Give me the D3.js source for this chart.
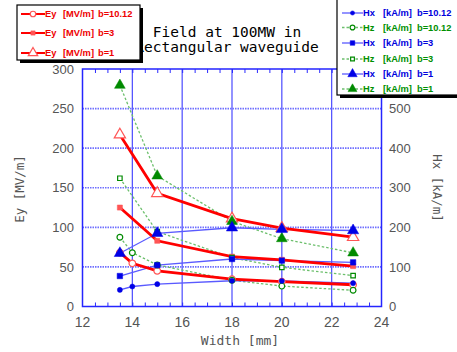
<!DOCTYPE html>
<html>
<head>
<meta charset="utf-8">
<script src="https://cdn.jsdelivr.net/npm/d3@7"></script>
<style>
  body { margin: 0; background: #fff; }
  .tick-label { font-family: "Liberation Sans", Arial, sans-serif; font-size: 13px; fill: #555; }
  .mono { font-family: "DejaVu Sans Mono", monospace; }
  .leg { font-family: "Liberation Sans", Arial, sans-serif; font-size: 9.3px; font-weight: bold; }
</style>
</head>
<body>
<div id="chart"></div>
<script>

// widths [mm]
var widthB10 = [13.5, 14, 15, 18, 20, 22.86]
var widthB = [13.5, 15, 18, 20, 22.86]

// Ey [MV/m], left axis
var eyB10 = [68, 54.5, 45, 34.5, 31.3, 27.5]
var eyB3 = [125, 83, 63, 59, 51]
var eyB1 = [217, 143, 111, 99, 87.5]

// Hx / Hz [kA/m], right axis
var hxB10 = [42, 50.5, 56.5, 65, 64.5, 59]
var hzB10 = [175, 136, 105, 66.5, 51.5, 41]
var hxB3 = [77, 104.5, 120, 116, 111.5]
var hzB3 = [324, 189, 123.5, 99, 78]
var hxB1 = [134.5, 185, 199, 195, 192]
var hzB1 = [559, 330, 215, 171.5, 135.5]

var xTicks = [12, 14, 16, 18, 20, 22, 24]
var yLeftTicks = [0, 50, 100, 150, 200, 250, 300]
var yRightTicks = [0, 100, 200, 300, 400, 500]

var W = 457, H = 352
var plot = { left: 82.5, right: 381.5, top: 69, bottom: 306.5 }

var svg = d3.select("#chart").append("svg")
    .attr("width", W)
    .attr("height", H)

var x = d3.scaleLinear().domain([12, 24]).range([plot.left, plot.right])
var yL = d3.scaleLinear().domain([0, 300]).range([plot.bottom, plot.top])
var yR = d3.scaleLinear().domain([0, 600]).range([plot.bottom, plot.top])

/* grid */
svg.selectAll(".vgrid")
  .data(xTicks.slice(1, -1))
  .enter().append("line")
    .attr("x1", function(d) { return x(d); })
    .attr("x2", function(d) { return x(d); })
    .attr("y1", plot.top)
    .attr("y2", plot.bottom)
    .style("stroke", "#4a4aff")
    .style("stroke-width", 1.2)

svg.selectAll(".hgrid")
  .data(yLeftTicks.slice(1, -1))
  .enter().append("line")
    .attr("x1", plot.left)
    .attr("x2", plot.right)
    .attr("y1", function(d) { return yL(d); })
    .attr("y2", function(d) { return yL(d); })
    .style("stroke", "#6f6fff")
    .style("stroke-width", 1.6)
    .style("stroke-dasharray", "1.5,1")

/* minor ticks every 0.5 mm, inside, bottom and top */
var minor = d3.range(12.5, 24, 0.5)
svg.append("g")
  .attr("transform", "translate(0," + plot.bottom + ")")
  .call(d3.axisBottom(x).tickValues(minor).tickSize(-4).tickFormat(""))
  .call(function(g) { g.select(".domain").remove(); g.selectAll("line").style("stroke", "#2b2bff"); })
svg.append("g")
  .attr("transform", "translate(0," + plot.top + ")")
  .call(d3.axisTop(x).tickValues(minor).tickSize(-4).tickFormat(""))
  .call(function(g) { g.select(".domain").remove(); g.selectAll("line").style("stroke", "#2b2bff"); })

/* frame */
svg.append("rect")
  .attr("x", plot.left)
  .attr("y", plot.top)
  .attr("width", plot.right - plot.left)
  .attr("height", plot.bottom - plot.top)
  .style("fill", "none")
  .style("stroke", "#2525ff")
  .style("stroke-width", 1.5)

/* tick labels */
svg.selectAll(".xl")
  .data(xTicks)
  .enter().append("text")
    .attr("class", "tick-label")
    .attr("x", function(d) { return x(d); })
    .attr("y", 327)
    .style("text-anchor", "middle")
    .style("font-size", "14px")
    .text(function(d) { return d; })

svg.selectAll(".yl")
  .data(yLeftTicks)
  .enter().append("text")
    .attr("class", "tick-label")
    .attr("x", 74)
    .attr("y", function(d) { return yL(d); })
    .attr("dy", "0.36em")
    .style("text-anchor", "end")
    .text(function(d) { return d; })

svg.selectAll(".yr")
  .data(yRightTicks)
  .enter().append("text")
    .attr("class", "tick-label")
    .attr("x", 389)
    .attr("y", function(d) { return yR(d); })
    .attr("dy", "0.36em")
    .text(function(d) { return d; })

svg.append("text")
  .attr("class", "mono")
  .attr("x", 240).attr("y", 345)
  .style("text-anchor", "middle")
  .style("font-size", "13px")
  .style("fill", "#555")
  .text("Width [mm]")

svg.append("text")
  .attr("class", "mono")
  .attr("transform", "translate(24,189) rotate(-90)")
  .style("text-anchor", "middle")
  .style("font-size", "12.5px")
  .style("fill", "#555")
  .text("Ey [MV/m]")

svg.append("text")
  .attr("class", "mono")
  .attr("transform", "translate(433,188) rotate(90)")
  .style("text-anchor", "middle")
  .style("font-size", "12.5px")
  .style("fill", "#555")
  .text("Hx [kA/m]")

/* title */
svg.append("text")
  .attr("class", "mono")
  .attr("x", 227).attr("y", 37)
  .style("text-anchor", "middle")
  .style("font-size", "14.5px")
  .text("Field at 100MW in")
svg.append("text")
  .attr("class", "mono")
  .attr("x", 227).attr("y", 52)
  .style("text-anchor", "middle")
  .style("font-size", "14.5px")
  .text("Rectangular waveguide")

/* series */
var series = [
  { label: "Hz", unit: "[kA/m]", b: "b=10.12", xs: widthB10, ys: hzB10, axis: yR, kind: "hz", sym: d3.symbolCircle, size: 26, open: true },
  { label: "Hz", unit: "[kA/m]", b: "b=3", xs: widthB, ys: hzB3, axis: yR, kind: "hz", sym: d3.symbolSquare, size: 20, open: true },
  { label: "Hz", unit: "[kA/m]", b: "b=1", xs: widthB, ys: hzB1, axis: yR, kind: "hz", sym: d3.symbolTriangle, size: 50, open: false },
  { label: "Hx", unit: "[kA/m]", b: "b=10.12", xs: widthB10, ys: hxB10, axis: yR, kind: "hx", sym: d3.symbolCircle, size: 20, open: false },
  { label: "Hx", unit: "[kA/m]", b: "b=3", xs: widthB, ys: hxB3, axis: yR, kind: "hx", sym: d3.symbolSquare, size: 30, open: false },
  { label: "Hx", unit: "[kA/m]", b: "b=1", xs: widthB, ys: hxB1, axis: yR, kind: "hx", sym: d3.symbolTriangle, size: 55, open: false },
  { label: "Ey", unit: "[MV/m]", b: "b=10.12", xs: widthB10, ys: eyB10, axis: yL, kind: "ey", sym: d3.symbolCircle, size: 34, open: true },
  { label: "Ey", unit: "[MV/m]", b: "b=3", xs: widthB, ys: eyB3, axis: yL, kind: "ey", sym: d3.symbolSquare, size: 26, open: false },
  { label: "Ey", unit: "[MV/m]", b: "b=1", xs: widthB, ys: eyB1, axis: yL, kind: "ey", sym: d3.symbolTriangle, size: 55, open: true }
]

var style = {
  ey: { line: "#ff0000", width: 2.8, dash: null, mark: "#ff5555", text: "#ee0000" },
  hx: { line: "#5a5aff", width: 1.3, dash: null, mark: "#0000e6", text: "#0000dd" },
  hz: { line: "#6cbf6c", width: 1.3, dash: "2.5,2", mark: "#008a00", text: "#009000" }
}

function linePath(s) {
  return d3.line()
    .x(function(d) { return x(d[0]); })
    .y(function(d) { return s.axis(d[1]); })(d3.zip(s.xs, s.ys))
}

function drawMarker(g, s, px, py) {
  var st = style[s.kind]
  g.append("path")
    .attr("d", d3.symbol().type(s.sym).size(s.size))
    .attr("transform", "translate(" + px + "," + py + ")")
    .style("fill", s.open ? "#fff" : st.mark)
    .style("stroke", st.mark)
    .style("stroke-width", s.open ? 1.2 : 0.5)
}

var lines = svg.append("g")
series.forEach(function(s) {
  var st = style[s.kind]
  lines.append("path")
    .attr("d", linePath(s))
    .style("fill", "none")
    .style("stroke", st.line)
    .style("stroke-width", st.width)
    .style("stroke-dasharray", st.dash)
})

var marks = svg.append("g")
var order = [6, 7, 8, 0, 1, 2, 3, 4, 5]
order.forEach(function(i) {
  var s = series[i]
  s.xs.forEach(function(xv, j) {
    drawMarker(marks, s, x(xv), s.axis(s.ys[j]))
  })
})

/* legends */
function legendBox(bx, by, bw, bh) {
  svg.append("rect").attr("x", bx + 3).attr("y", by + 3).attr("width", bw).attr("height", bh).style("fill", "#000")
  svg.append("rect").attr("x", bx).attr("y", by).attr("width", bw).attr("height", bh)
    .style("fill", "#fff").style("stroke", "#000").style("stroke-width", 1.2)
}

function legendRow(s, lx0, lx1, tx, rowY) {
  var st = style[s.kind]
  svg.append("line")
    .attr("x1", lx0).attr("x2", lx1).attr("y1", rowY).attr("y2", rowY)
    .style("stroke", st.line)
    .style("stroke-width", s.kind == "ey" ? 2 : 1.3)
    .style("stroke-dasharray", st.dash)
  var ms = Object.assign({}, s, { size: s.size * 0.7 })
  drawMarker(svg, ms, (lx0 + lx1) / 2, rowY)
  var parts = [s.label, s.unit, s.b]
  parts.forEach(function(p, k) {
    svg.append("text")
      .attr("class", "leg")
      .attr("x", tx[k]).attr("y", rowY + 3.3)
      .style("fill", st.text)
      .text(p)
  })
}

legendBox(17, 5, 123, 55)
var leftRows = [6, 7, 8]
var leftY = [14, 33, 53]
leftRows.forEach(function(i, k) {
  legendRow(series[i], 21, 45, [45, 63, 98], leftY[k])
})

legendBox(337, -4, 125, 99)
var rightRows = [3, 0, 4, 1, 5, 2]
var rightY = [13, 27.5, 43, 59, 74, 89]
rightRows.forEach(function(i, k) {
  legendRow(series[i], 342, 363, [363, 383, 417], rightY[k])
})

</script>
</body>
</html>
